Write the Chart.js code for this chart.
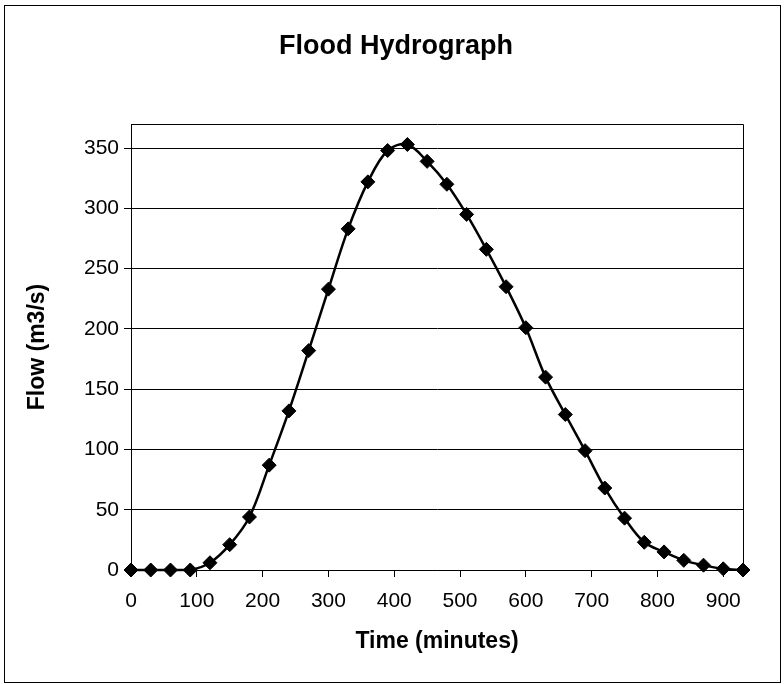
<!DOCTYPE html>
<html>
<head>
<meta charset="utf-8">
<title>Flood Hydrograph</title>
<script src="https://cdn.jsdelivr.net/npm/chart.js@4"></script>
<style>
  html, body { margin: 0; padding: 0; background: #fff; }
  #wrap { position: relative; width: 784px; height: 684px; }
</style>
</head>
<body>
<div id="wrap"><canvas id="hydro" width="784" height="684"></canvas></div>
<script>
// hydrograph readings, every 30 minutes
const times = [0, 30, 60, 90, 120, 150, 180, 210, 240, 270, 300, 330, 360, 390, 420, 450,
  480, 510, 540, 570, 600, 630, 660, 690, 720, 750, 780, 810, 840, 870, 900, 930];
const flows = [0, 0, 0, 0, 6, 21, 44, 87, 132, 182, 233, 283, 322, 348, 353, 339,
  320, 295, 266, 235, 201, 160, 129, 99, 68, 43, 23, 15, 8, 4, 1, 0];
const xTicks = [0, 100, 200, 300, 400, 500, 600, 700, 800, 900];
const yTicks = [0, 50, 100, 150, 200, 250, 300, 350];

const FONT = 'Arial, "Liberation Sans", sans-serif';
const TITLE = 'Flood Hydrograph';

// chart title, plot-area frame and the outer chart border
const frames = {
  id: 'frames',
  afterDraw(chart) {
    const { ctx, chartArea: a } = chart;
    ctx.save();
    ctx.fillStyle = '#000';
    ctx.font = 'bold 27px ' + FONT;
    ctx.textAlign = 'center';
    ctx.textBaseline = 'middle';
    ctx.fillText(TITLE, 396, 47);

    ctx.strokeStyle = '#000';
    ctx.lineWidth = 1;
    ctx.beginPath();
    ctx.moveTo(Math.round(a.left) + 0.5, Math.round(a.bottom));
    ctx.lineTo(Math.round(a.left) + 0.5, Math.round(a.top) + 0.5);
    ctx.lineTo(Math.round(a.right) + 0.5, Math.round(a.top) + 0.5);
    ctx.lineTo(Math.round(a.right) + 0.5, Math.round(a.bottom));
    ctx.stroke();
    ctx.strokeRect(4.5, 5.5, 776, 677);
    ctx.restore();
  }
};

const ctx = document.getElementById('hydro').getContext('2d');

new Chart(ctx, {
  type: 'scatter',
  data: {
    datasets: [{
      data: times.map((t, i) => ({ x: t, y: flows[i] })),
      showLine: true,
      tension: 0.35,
      borderColor: '#000',
      borderWidth: 2.5,
      pointStyle: 'rectRot',
      pointRadius: 7,
      pointHoverRadius: 7,
      pointBackgroundColor: '#000',
      pointBorderColor: '#000',
      pointBorderWidth: 1,
      clip: false
    }]
  },
  options: {
    responsive: false,
    animation: false,
    layout: { padding: { top: 124, left: 0, right: 41, bottom: 0 } },
    plugins: {
      legend: { display: false },
      tooltip: { enabled: false },
      title: { display: false }
    },
    scales: {
      x: {
        type: 'linear',
        min: 0,
        max: 930,
        afterBuildTicks: s => { s.ticks = xTicks.map(v => ({ value: v })); },
        afterFit: s => { s.height = 114; },
        grid: { drawOnChartArea: false, color: '#000', tickLength: 7, tickColor: '#000' },
        border: { color: '#000', width: 1 },
        ticks: {
          color: '#000',
          padding: 12,
          maxRotation: 0,
          font: { family: FONT, size: 21 }
        },
        title: {
          display: true,
          text: 'Time (minutes)',
          color: '#000',
          font: { family: FONT, size: 23, weight: 'bold' },
          padding: { top: 0, bottom: 29 }
        }
      },
      y: {
        min: 0,
        max: 370,
        afterBuildTicks: s => { s.ticks = yTicks.map(v => ({ value: v })); },
        afterFit: s => { s.width = 131; },
        grid: { color: '#000', lineWidth: 1, tickLength: 7, tickColor: '#000' },
        border: { color: '#000', width: 1 },
        ticks: {
          color: '#000',
          padding: 5,
          font: { family: FONT, size: 21 }
        },
        title: {
          display: true,
          text: 'Flow (m3/s)',
          color: '#000',
          font: { family: FONT, size: 23, weight: 'bold' },
          padding: { top: 24, bottom: 0 }
        }
      }
    }
  },
  plugins: [frames]
});
</script>
</body>
</html>
